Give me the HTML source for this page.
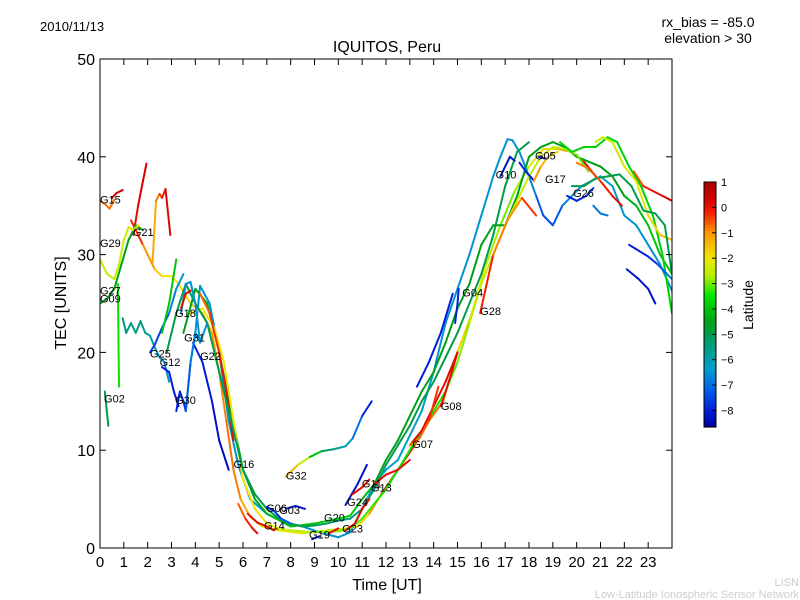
<!DOCTYPE html>
<html><head><meta charset="utf-8"><style>
html,body{margin:0;padding:0;background:#fff;}
svg{display:block;font-family:"Liberation Sans","DejaVu Sans",sans-serif;}
</style></head><body>
<svg id="chart" width="800" height="600" viewBox="0 0 800 600">
<defs>
<clipPath id="pc"><rect x="100" y="59" width="572" height="489"/></clipPath>
</defs>
<rect x="0" y="0" width="800" height="600" fill="#fff"/>
<text x="40" y="31" font-size="13">2010/11/13</text>
<text x="708" y="27" font-size="14" text-anchor="middle">rx_bias = -85.0</text>
<text x="708" y="43" font-size="14" text-anchor="middle">elevation &gt; 30</text>
<text x="387" y="52" font-size="16" text-anchor="middle">IQUITOS, Peru</text>
<g id="series" clip-path="url(#pc)"></g>
<g id="labels"></g>
<rect x="100" y="59" width="572" height="489" fill="none" stroke="#000" stroke-width="1"/>
<g id="axes"></g>
<text x="387" y="590" font-size="16" text-anchor="middle">Time [UT]</text>
<text transform="translate(66,303) rotate(-90)" font-size="16" text-anchor="middle">TEC [UNITS]</text>
<g id="cbar"></g>
<text transform="translate(753,305) rotate(-90)" font-size="14" text-anchor="middle">Latitude</text>
<text x="799" y="586" font-size="11" fill="#ccc" text-anchor="end">LISN</text>
<text x="799" y="598" font-size="11" fill="#ccc" text-anchor="end">Low-Latitude Ionospheric Sensor Network</text>
</svg>
<script>
const xTicks=[0,1,2,3,4,5,6,7,8,9,10,11,12,13,14,15,16,17,18,19,20,21,22,23];
const yTicks=[0,10,20,30,40,50];
const cbTicks=[1,0,-1,-2,-3,-4,-5,-6,-7,-8];
const latMin=-8.65, latMax=1;
const seriesTimes=[
[0.5,0.7,0.95],
[0,0.2,0.4,0.6],
[1.4,1.6,1.8,1.95],
[2.2,2.35,2.5,2.6,2.75,2.95],
[1.3,1.8,2.3,2.6,3.0,3.3,3.8,4.3,4.7,5.0,5.3,5.6,5.9,6.3,6.8,7.5,8.5,9.5,10.3,10.8,11.3,11.8,12.5,13.2,13.8,14.4,15,15.6,16.2,16.8,17.4,18,18.6,19.2,19.8,20.3,20.8],
[3.6,3.8,4.0,4.2,4.6,5.0,5.4,5.8,6.3,7,7.8,8.5,9.2,10,10.5,11,11.5,12,12.5,13,13.5,14,14.5,15,15.5,16,16.5,16.8,17.1,17.3,17.6,18,18.3,18.6,19,19.4,19.8,20.2,20.6,21,21.5,22,22.5,23,23.5,24],
[3.5,4,4.5,5,5.5,6,6.5,7,8,9,10,10.5,11,11.5,12,12.5,13,13.5,14,14.5,15,15.5,16,16.5,17,17.5,18,18.5,19,19.5,20,20.5,21,21.5,22,22.5,23,23.5,24],
[3.8,4.3,4.8,5.2,5.6,6.0,6.5,7,7.5,8,9,10,10.5,11,11.5,12,12.5,13,13.5,14,14.5,15,15.5,16,16.5,17,17.5,18,18.5,19,19.5,20,20.5],
[4.2,4.6,5,5.3,5.6],
[3.9,4.3,4.7,5.0,5.4],
[2.8,3.2,3.6,4.0,4.5,5,5.5,6,6.5,7,7.5,8,8.5,9,9.5,10,10.5,11,11.5,12,12.5,13,13.5,14,14.5,15,15.5,16,16.5,17,17.5,18],
[10.3,10.8,11.2],
[13.3,13.8,14.3,14.8],
[13,13.5,14,14.5,15],
[15.95,16.5,17.1,17.7,18.3],
[19.3,19.8,20.3,20.8,21.3,21.7,22.2,22.7,23.2,23.6,24],
[20.8,21.1,21.5,22,22.5,23,23.5,24],
[19.8,20.3,20.8,21.3,21.8,22.3,22.8,23.3,23.7,24],
[22.2,22.6,23,23.4,23.8,24],
[22.4,22.8,23.2,23.6,24],
[22.1,22.6,23,23.3],
[19.6,20,20.4,20.7],
[20.7,21,21.3],
[20,20.5,21,21.5,21.9],
[16.8,17.2,17.4],
[18.4,18.7,19],
[17.6,17.9,18.2],
[18.2,18.5,18.8,19.2],
[0,0.3,0.6,0.9,1.2,1.5,1.8],
[0,0.3,0.6,0.8,1.0,1.2,1.4,1.6],
[0.75,0.78,0.8],
[0.2,0.35],
[0.95,1.1,1.3,1.5,1.7,1.9,2.1,2.3,2.5,2.7,2.9],
[2.1,2.3,2.6,2.9,3.2,3.5],
[2.6,2.9,3.1,3.3],
[3.2,3.35,3.5,3.6,3.8,4.0,4.2,4.5],
[3.4,3.6,3.8,4.0,4.2],
[2.6,2.9,3.2],
[3.4,3.6,3.8],
[5.8,6.1,6.4,6.6],
[6.2,6.6,7.0,7.3],
[7,7.3,7.6,8],
[7.8,8.2,8.6],
[8.9,9.2],
[9.6,10],
[10.3,10.7,11,11.3],
[10.6,11,11.3],
[11.5,12,12.5,13],
[7.8,8.3,8.8,9.3,9.8,10.3,10.6,11,11.4],
[13.0,13.4,13.8,14.2],
[14.3,14.7,15],
[14.9,15,15.05]
];
const seriesTec=[
[35.8,36.3,36.6],
[35.5,35.2,34.7,35.6],
[32,35,37.5,39.3],
[29,35.5,36.2,35.8,36.7,32],
[33.5,31,28.5,27.8,27.8,27,25,24,22,18,13,8,5,3.2,2.2,1.8,1.5,1.8,2,2.2,3.5,5.5,8,10.5,13,15,20,24,29,33,36.5,39,40.8,40.8,40.5,39.5,38],
[14,19,22,26.8,25,20,13,8.5,5,3.5,2.5,2.2,1.6,1.1,1.6,4,6.5,8,9,11.5,14,18,23,26.5,30,34,38,40,41.8,41.7,40.5,38,36,34,33,35,36,37,37.5,38,37,34,33,31,29,26.3],
[22,26.5,25,20,14,8,5,3.5,2.2,2.5,3,3.3,5,6.5,9,11,13.5,16,18,21,24.5,27,31,33,33,36,40,41,41.5,41,40,39.5,39,38,36,35,33,30,28],
[24,24.5,22.5,19,13,7,4,2.5,2,1.8,1.6,1.7,2,3,4.5,6,8,10,12,14,16,19,23,27,30,33,35.5,38,40,41,40.8,40.2,38.5],
[26,24,20,16,11],
[21,19,15,11,8],
[20,24,27,25,23,18,13,8,5.5,4,3,2.5,2.2,2.3,2.5,2.8,3,4,6,8.5,10.5,12.5,15,17,19.5,22,25,28,32,37,40.5,41.5],
[4.4,6.5,8.5],
[16.5,19,22,26],
[10.5,12,14.5,17,20],
[24,30,33.5,35.8,34],
[41.5,40.5,41,41,42,41.5,39,37,34,30,24],
[41.5,42,41.5,39,37.5,34,32,31.5],
[37,37,37.8,38,38.2,37,34.5,34.2,33,28],
[31,30.4,29.8,29,28,27.5],
[38.5,37,36.5,36,35.5],
[28.5,27.5,26.5,25],
[36,35.5,36,36.8],
[35,34.2,34],
[39.4,38.8,37.5,36,35],
[38,40,39.6],
[40,39.8,40.3],
[39.4,38.4,37.6],
[37.5,39,40,40.5],
[25,25.5,26.5,29,31.5,33,32.5],
[29.5,28,27.5,29,31.5,32.8,32.5,33],
[27,20,16.5],
[16,12.5],
[23.5,22,23,22,23.2,22,21.7,20.5,19.5,19,17],
[20,20.8,22.5,24,26.5,28],
[18.5,18,16,14.5],
[14,16,15,14,19,22,21,23],
[24,27,27.2,25,21],
[22,25,29.5],
[24.5,26,26.3],
[4.5,3,2,1.5],
[3.5,2.6,2.2,1.8],
[4.2,3.8,3,2.5],
[4,4.3,4.0],
[0.9,1.2],
[1.5,2],
[1.8,2.5,4,5],
[5.5,6.2,7],
[6.5,7.5,8,9],
[7.3,8.5,9.3,9.9,10.1,10.4,11.2,13.5,15],
[10.5,11.2,13,16.5],
[14.5,17.5,20],
[23,25,26.5]
];
const seriesLat=[
[0.5,0.5,0.5],
[-0.8,-0.8,-0.8,-0.8],
[0,0.2,0.3,0.4],
[-1.5,-1,-0.6,-0.2,0.1,0.3],
[0,-0.5,-1.5,-2,-2,-2,-1.8,-1.5,-1.2,-1,-0.8,-0.7,-1,-1.5,-2,-2,-2.2,-2.5,-2.5,-2.2,-1.5,-0.5,0,-0.3,-0.5,-1,-1.5,-2,-2.5,-3,-3,-2.5,-2,-1.5,-1,0,0.3],
[-6.5,-6.5,-6.5,-6.5,-6.5,-6.5,-6.5,-6.5,-6.5,-6.3,-6.2,-6.5,-6.5,-6.5,-6.5,-6.3,-6.3,-6.3,-6.3,-6.3,-6.3,-6.5,-6.5,-6.5,-6.5,-6.5,-6.5,-6.5,-6.5,-6.5,-6.5,-6.5,-7,-7.5,-7.5,-7,-6.5,-6.5,-6.5,-6.3,-6.3,-6.5,-6.5,-6.5,-6.5,-6.5],
[-4.5,-4.5,-4.5,-4.5,-4.5,-4.5,-4.5,-4.2,-4,-4,-3.8,-3.8,-4,-4.3,-4.5,-4.5,-4.5,-4.5,-4.5,-4.5,-4.5,-4.5,-4.5,-4.5,-4.5,-4.5,-4.5,-4.5,-4.5,-4.5,-4.5,-4.5,-4.5,-4.5,-4.5,-4.2,-4,-4,-4],
[-2,-2,-2,-2,-2,-2,-2,-2,-2.2,-2.5,-2.8,-3,-3,-3.2,-3.3,-3.5,-3.5,-3.5,-3.5,-3.5,-3.3,-3,-2.8,-2.5,-2.5,-2.5,-2.5,-2.5,-2.5,-2.5,-2.8,-3,-3],
[-0.8,-0.5,-0.2,0,0.2],
[-7.8,-8,-8.2,-8.3,-8.5],
[-5,-5,-5,-5,-5,-5,-5,-5,-5,-5,-5,-5,-5,-5,-5.2,-5.5,-5.5,-5.5,-5.5,-5.2,-5,-5,-5,-5,-5,-5,-5,-5,-5,-5,-5,-5],
[-8.2,-8.2,-8.2],
[-8,-8,-8,-8],
[0.1,0.1,0.1,0.1,0.1],
[0.1,-0.5,-1.2,-0.8,0.1],
[-3.8,-3.8,-3.8,-3.8,-3.8,-3.8,-3.8,-3.8,-3.8,-3.8,-3.8],
[-2.5,-2.5,-2.5,-2.5,-2.3,-2,-1.5,-1.5],
[-5,-5,-5,-5,-5,-5,-5,-5,-5,-5],
[-8,-8,-8,-7.5,-7,-6.5],
[-0.8,-0.3,0,0.1,0.2],
[-8.2,-8.2,-8.2,-8.2],
[-8,-8,-7.8,-7.5],
[-6.8,-6.8,-6.8],
[-1,-0.7,-0.3,0,0.2],
[-8.2,-8.2,-8.2],
[-8,-8,-8],
[-8,-8,-8],
[-0.8,-1.2,-1.5,-2],
[-4.5,-4.5,-4.5,-4.5,-4.5,-4.5,-4.5],
[-2.5,-2.5,-2.5,-2.5,-2.5,-2.3,-2,-2],
[-3.5,-3.5,-3.5],
[-5,-5],
[-5.5,-5.5,-5.5,-5.5,-5.5,-5.5,-5.8,-6,-6.5,-6.5,-6.5],
[-7.5,-7.5,-7.5,-7,-6.5,-6.5],
[-8,-8,-8,-8],
[-8,-8,-8,-7.5,-7,-6.5,-6.5,-6.5],
[-6.5,-6.5,-6.5,-6.5,-6.5],
[-4,-4,-4],
[0.1,0.1,0.1],
[-0.8,-0.4,0,0.2],
[0.1,0.1,0.1,0.1],
[-8,-8,-7.5,-7],
[-8,-8,-8],
[-8.2,-8.2],
[0.1,0.1],
[0.1,0.1,0.1,0.1],
[0.1,0.1,0.1],
[0.1,0.1,0.1,0.1],
[-0.8,-2,-3,-5,-5.5,-6,-6.5,-7.5,-8.2],
[-0.8,-0.8,-0.5,-0.2],
[0.1,0.1,0.1],
[-8,-8,-8]
];
const labelNames=["G15","G21","G29","G27","G09","G02","G18","G25","G12","G31","G22","G30","G16","G32","G06","G03","G14","G19","G20","G24","G23","G11","G13","G07","G08","G04","G28","G10","G05","G17","G26"];
const labelTimes=[0,1.38,0,0,0,0.17,3.15,2.1,2.5,3.53,4.2,3.15,5.6,7.8,6.97,7.52,6.88,8.77,9.4,10.37,10.16,10.99,11.37,13.1,14.3,15.2,15.95,16.6,18.25,18.67,19.85];
const labelTec=[35.2,31.9,30.8,25.9,25.1,14.9,23.6,19.5,18.6,21.1,19.2,14.7,8.2,7,3.7,3.5,1.9,0.95,2.7,4.3,1.6,6.2,5.8,10.2,14.1,25.7,23.8,37.8,39.7,37.3,35.9];

const NS='http://www.w3.org/2000/svg';
const X=t=>100+t*572/24;
const Y=v=>548-v*489/50;
const CY=l=>182+(latMax-l)*(427-182)/(latMax-latMin);
const cmLat=[1,0.3,-0.2,-1,-2,-2.7,-3.5,-4.5,-5.3,-6.3,-7,-8,-8.65];
const cmCol=[[170,0,0],[215,0,0],[245,30,0],[250,150,0],[240,230,0],[180,240,0],[0,230,0],[0,160,20],[0,155,110],[0,160,200],[0,110,230],[0,30,220],[0,0,150]];
function jet(l){
  if(l>=cmLat[0]) l=cmLat[0];
  if(l<=cmLat[cmLat.length-1]) l=cmLat[cmLat.length-1];
  for(let i=0;i<cmLat.length-1;i++){
    if(l<=cmLat[i]&&l>=cmLat[i+1]){
      const f=(cmLat[i]-l)/(cmLat[i]-cmLat[i+1]);
      const c=cmCol[i].map((v,k)=>Math.round(v+(cmCol[i+1][k]-v)*f));
      return 'rgb('+c.join(',')+')';
    }
  }
  return 'rgb(0,0,150)';
}
const sg=document.getElementById('series');
seriesTimes.forEach((ts,si)=>{
  const g=document.createElementNS(NS,'g');
  
  
  const vs=seriesTec[si], ls=seriesLat[si];
  for(let i=0;i<ts.length-1;i++){
    const ln=document.createElementNS(NS,'line');
    ln.setAttribute('x1',X(ts[i]));ln.setAttribute('y1',Y(vs[i]));
    ln.setAttribute('x2',X(ts[i+1]));ln.setAttribute('y2',Y(vs[i+1]));
    ln.setAttribute('stroke',jet((ls[i]+ls[i+1])/2));
    ln.setAttribute('stroke-width','2');ln.setAttribute('stroke-linecap','round');
    
    
    g.appendChild(ln);
  }
  sg.appendChild(g);
});
const lg=document.getElementById('labels');
labelNames.forEach((n,i)=>{
  const t=document.createElementNS(NS,'text');
  t.setAttribute('x',X(labelTimes[i]));t.setAttribute('y',Y(labelTec[i]));
  t.setAttribute('font-size','11');t.textContent=n;
  
  
  lg.appendChild(t);
});
const ag=document.getElementById('axes');
function mk(tag,attrs,parent){const e=document.createElementNS(NS,tag);for(const k in attrs)e.setAttribute(k,attrs[k]);parent.appendChild(e);return e;}
xTicks.forEach(t=>{
  const x=X(t);
  const a=mk('line',{x1:x,y1:548,x2:x,y2:542,stroke:'#000'},ag);
  
  
  const b=mk('line',{x1:x,y1:59,x2:x,y2:65,stroke:'#000'},ag);
  
  
  const tx=mk('text',{x:x,y:567,'font-size':'15','text-anchor':'middle'},ag);
  tx.textContent=t;
  
  
});
yTicks.forEach(v=>{
  const y=Y(v);
  const a=mk('line',{x1:100,y1:y,x2:106,y2:y,stroke:'#000'},ag);
  
  
  const b=mk('line',{x1:672,y1:y,x2:666,y2:y,stroke:'#000'},ag);
  
  
  const tx=mk('text',{x:95,y:y+6,'font-size':'16','text-anchor':'end'},ag);
  tx.textContent=v;
  
  
});
const cg=document.getElementById('cbar');
const N=80;
for(let i=0;i<N;i++){
  const l1=latMax-(latMax-latMin)*i/N, l2=latMax-(latMax-latMin)*(i+1)/N;
  const r=mk('rect',{x:704,y:CY(l1),width:12,height:CY(l2)-CY(l1)+0.6,fill:jet((l1+l2)/2)},cg);
  
  
}
const fr=mk('rect',{x:704,y:182,width:12,height:245,fill:'none',stroke:'#000'},cg);


cbTicks.forEach(v=>{
  const y=CY(v);
  const a=mk('line',{x1:712,y1:y,x2:716,y2:y,stroke:'#000'},cg);
  
  
  const tx=mk('text',{x:721,y:y+4,'font-size':'11'},cg);
  tx.textContent=(v<0?'\u2212'+(-v):v);
  
  
});
</script>
</body></html>
